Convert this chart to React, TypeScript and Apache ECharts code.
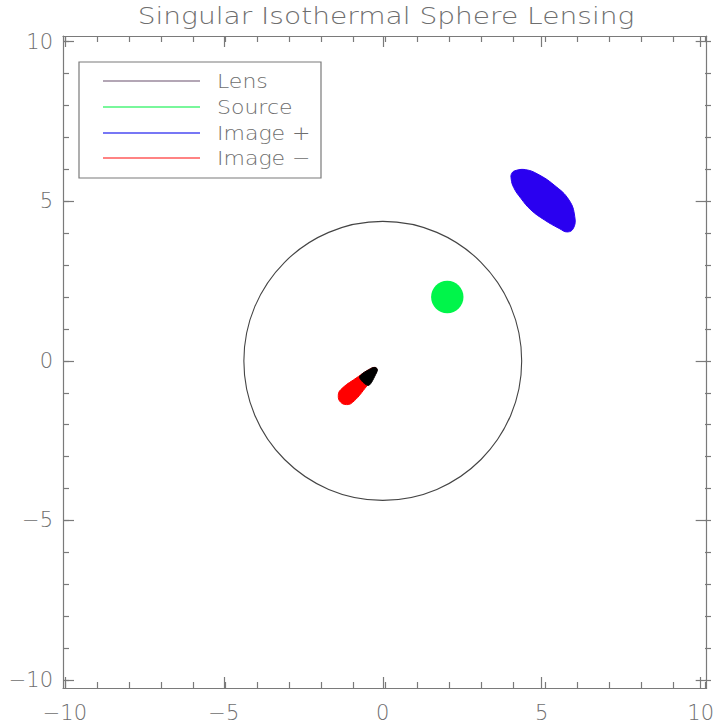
import React, { useEffect, useRef } from "react";
import * as echarts from "echarts";

// ---- text ----
const titleText = "Singular Isothermal Sphere Lensing";
const legendNames = ["Lens", "Source", "Image +", "Image \u2212"];
const legendColors = ["#9a889c", "#4cf57a", "#4a4af2", "#ff5a5a"];

// ---- axes ----
const majorTicks = [-10, -5, 0, 5, 10];
const minorTicks = [-10, -9, -8, -7, -6, -5, -4, -3, -2, -1, 0, 1, 2, 3, 4, 5, 6, 7, 8, 9, 10];
const xRange = [-10.06, 10.19];
const yRange = [-10.25, 10.18];

// ---- lens (critical circle) ----
const lensCenter = [0, 0];
const einsteinRadius = 4.37;

// ---- source disc ----
const sourceCenter = [2.03, 2.0];
const sourceRadius = 0.51;

// ---- outer (+) image outline ----
const imagePlusX = [4.2, 4.5, 4.86, 5.39, 5.86, 6.04, 6.0, 5.81, 5.55, 5.08, 4.66, 4.34, 4.12, 4.04, 4.06];
const imagePlusY = [5.97, 5.99, 5.86, 5.51, 5.04, 4.52, 4.16, 4.04, 4.15, 4.42, 4.73, 5.1, 5.43, 5.7, 5.88];

// ---- inner (−) image outline ----
const imageMinusX = [-0.2, -0.21, -0.56, -0.95, -1.14, -1.33, -1.4, -1.32, -0.84, -0.33];
const imageMinusY = [-0.23, -0.36, -0.86, -1.3, -1.37, -1.29, -1.09, -0.9, -0.54, -0.22];

// ---- dark tip of the (−) image ----
const imageTipX = [-0.22, -0.17, -0.2, -0.45, -0.73, -0.34];
const imageTipY = [-0.21, -0.27, -0.38, -0.77, -0.5, -0.22];

const axisColor = "#7a7a7a";
const textColor = "#6e6e6e";
const fontFamily = "DejaVu Sans";

const fmt = (v: number) => (v < 0 ? "\u2212" + Math.abs(v) : String(v));

function makeAxis(
  gridIndex: number,
  position: string,
  range: number[],
  ticks: number[],
  tickLen: number,
  showLine: boolean,
  showLabel: boolean
) {
  return {
    type: "value",
    gridIndex,
    position,
    min: range[0],
    max: range[1],
    axisLine: { show: showLine, onZero: false, lineStyle: { color: axisColor, width: 1.2 } },
    axisTick: {
      show: true,
      inside: true,
      length: tickLen,
      customValues: ticks,
      lineStyle: { color: axisColor, width: 1.2 },
    },
    axisLabel: {
      show: showLabel,
      customValues: majorTicks,
      formatter: fmt,
      color: textColor,
      fontSize: 21,
      fontFamily,
      fontWeight: 200,
      margin: position === "bottom" ? 14 : 10,
    },
    splitLine: { show: false },
  };
}

function polygonSeries(xs: number[], ys: number[], color: string, z: number, smooth: number) {
  return {
    type: "custom",
    xAxisIndex: 0,
    yAxisIndex: 0,
    z,
    silent: true,
    data: [0],
    renderItem: (_p: any, api: any) => ({
      type: "polygon",
      shape: {
        points: xs.map((x, i) => api.coord([x, ys[i]])),
        smooth,
      },
      style: { fill: color, stroke: color, lineWidth: 1 },
    }),
  };
}

export default function App() {
  const ref = useRef<HTMLDivElement>(null);

  useEffect(() => {
    if (!ref.current) return;
    const chart = echarts.init(ref.current, null, { renderer: "svg" });

    const grid = { left: 63, top: 36, right: 6, bottom: 37 };

    const legendRows = [81, 107, 133, 158];
    const legendGraphics: any[] = [
      {
        type: "rect",
        shape: { x: 79, y: 62, width: 242, height: 116 },
        style: { fill: "#fff", stroke: axisColor, lineWidth: 1.2 },
        z: 10,
      },
    ];
    legendNames.forEach((name, i) => {
      legendGraphics.push({
        type: "line",
        shape: { x1: 103, y1: legendRows[i], x2: 200, y2: legendRows[i] },
        style: { stroke: legendColors[i], lineWidth: 1.5 },
        z: 11,
      });
      legendGraphics.push({
        type: "text",
        x: 217,
        y: legendRows[i],
        scaleX: 1.1,
        style: {
          text: name,
          fill: textColor,
          fontSize: 20,
          fontFamily,
          fontWeight: 200,
          verticalAlign: "middle",
          textAlign: "left",
        },
        z: 11,
      });
    });

    chart.setOption({
      animation: false,
      backgroundColor: "#fff",
      grid: [grid, grid],
      xAxis: [
        makeAxis(0, "bottom", xRange, majorTicks, 11, true, true),
        makeAxis(0, "top", xRange, majorTicks, 11, true, false),
        makeAxis(1, "bottom", xRange, minorTicks, 6, false, false),
        makeAxis(1, "top", xRange, minorTicks, 6, false, false),
      ],
      yAxis: [
        makeAxis(0, "left", yRange, majorTicks, 11, true, true),
        makeAxis(0, "right", yRange, majorTicks, 11, true, false),
        makeAxis(1, "left", yRange, minorTicks, 6, false, false),
        makeAxis(1, "right", yRange, minorTicks, 6, false, false),
      ],
      graphic: [
        {
          type: "text",
          x: 386,
          y: 4,
          scaleX: 1.22,
          style: {
            text: titleText,
            fill: textColor,
            fontSize: 23,
            fontFamily,
            fontWeight: 200,
            textAlign: "center",
            verticalAlign: "top",
          },
        },
        ...legendGraphics,
      ],
      series: [
        {
          type: "custom",
          xAxisIndex: 0,
          yAxisIndex: 0,
          z: 2,
          silent: true,
          data: [[lensCenter[0], lensCenter[1], einsteinRadius]],
          renderItem: (_p: any, api: any) => {
            const c = api.coord([api.value(0), api.value(1)]);
            const s = api.size([api.value(2), api.value(2)]);
            return {
              type: "ellipse",
              shape: { cx: c[0], cy: c[1], rx: s[0], ry: s[1] },
              style: { fill: "none", stroke: "#444", lineWidth: 1.1 },
            };
          },
        },
        {
          type: "custom",
          xAxisIndex: 0,
          yAxisIndex: 0,
          z: 3,
          silent: true,
          data: [[sourceCenter[0], sourceCenter[1], sourceRadius]],
          renderItem: (_p: any, api: any) => {
            const c = api.coord([api.value(0), api.value(1)]);
            const s = api.size([api.value(2), api.value(2)]);
            return {
              type: "ellipse",
              shape: { cx: c[0], cy: c[1], rx: s[0], ry: s[1] },
              style: { fill: "#00f54a" },
            };
          },
        },
        polygonSeries(imagePlusX, imagePlusY, "#2a00f0", 3, 0.45),
        polygonSeries(imageMinusX, imageMinusY, "#ff0000", 3, 0.45),
        polygonSeries(imageTipX, imageTipY, "#000000", 4, 0.3),
      ],
    });

    return () => chart.dispose();
  }, []);

  return (
    <div
      ref={ref}
      style={{ position: "fixed", left: 0, top: 0, width: 717, height: 725, background: "#fff" }}
    />
  );
}
